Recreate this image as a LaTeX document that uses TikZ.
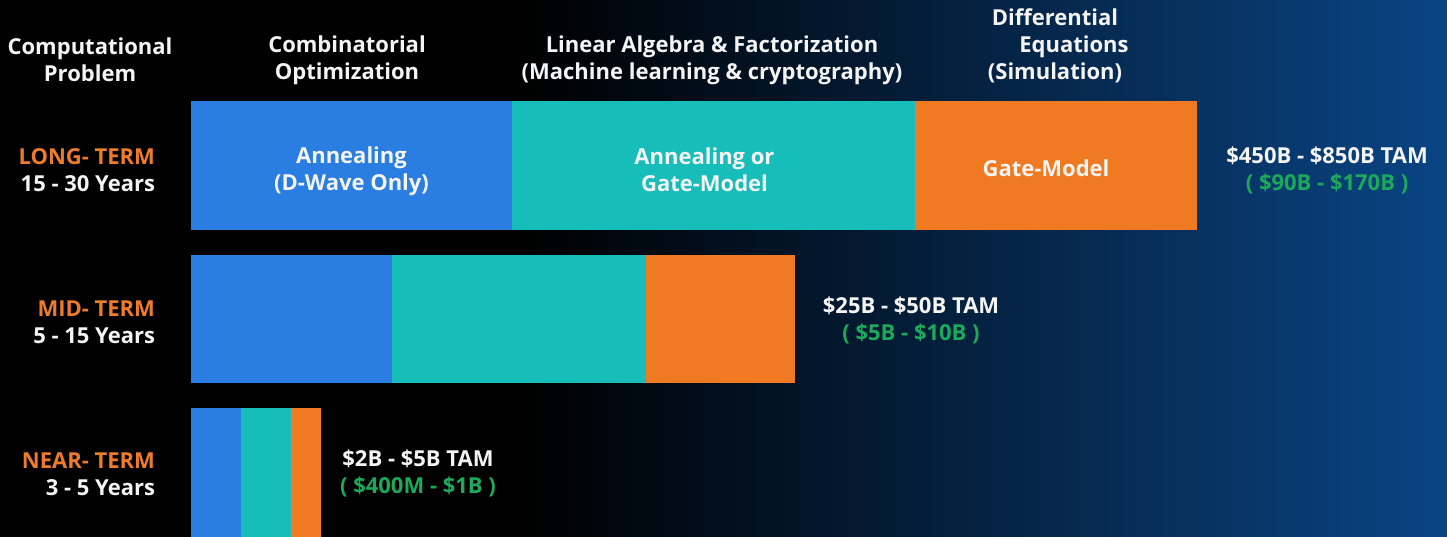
\documentclass[tikz,border=0pt]{standalone}
\usepackage{fontspec}
\setmainfont{Open Sans}
\usetikzlibrary{positioning}

\definecolor{qblue}{HTML}{2A7DE1}
\definecolor{qteal}{HTML}{17BDB8}
\definecolor{qorange}{HTML}{F07A21}
\definecolor{termorange}{HTML}{EE7B2C}
\definecolor{tamgreen}{HTML}{1BAA5A}
\definecolor{bgmid}{HTML}{031A3B}
\definecolor{bgnavy}{HTML}{0A4585}
\definecolor{txtwhite}{HTML}{F4F4F4}

\begin{document}
\begin{tikzpicture}[
        x=1pt, y=-1pt,
        every node/.style={text=txtwhite, font=\fontsize{22}{27}\selectfont\bfseries, inner sep=0pt, outer sep=0pt},
        head/.style={align=center},
        term/.style={align=right, anchor=east},
        tam/.style={align=center},
        bar/.style={minimum height=131pt, anchor=north west},
        barblue/.style={bar, fill=qblue},
        barteal/.style={bar, fill=qteal},
        barorange/.style={bar, fill=qorange},
        bartext/.style={align=center}
      ]
      % background
      \useasboundingbox (0,0) rectangle (1447,536);
      \fill[black] (-5,-5) rectangle (1452,541);
      \shade[left color=black, middle color=bgmid, right color=bgnavy] (520,-5) rectangle (1452,541);

      % column headings
      \node[head] (hprob) at (90,60) {Computational\\Problem};
      \node[head] (hcomb) at (347,60) {Combinatorial\\Optimization};
      \node[head] (hlin) at (712,60) {Linear Algebra \& Factorization\\(Machine learning \& cryptography)};
      \node[head] (hdiff) at (1055,46) {Differential\\\hspace*{38pt}Equations\\(Simulation)};

      % long term
      \node[term] (tlong) at (155,170) {{\color{termorange}LONG- TERM}\\15 - 30 Years};
      \node[barblue, minimum width=321pt, minimum height=129pt] (lblue) at (191,101) {};
      \node[barteal, minimum width=403pt, minimum height=129pt, right=0pt of lblue] (lteal) {};
      \node[barorange, minimum width=282pt, minimum height=129pt, right=0pt of lteal] (lorange) {};
      \node[bartext] (lbluetxt) at ([yshift=-6pt]lblue.center) {Annealing\\(D-Wave Only)};
      \node[bartext] (ltealtxt) at ([xshift=-9pt, yshift=-4pt]lteal.center) {Annealing or\\Gate-Model};
      \node[bartext] (lorangetxt) at ([xshift=-10pt, yshift=-3pt]lorange.center) {Gate-Model};
      \node[tam] (tamlong) at (1327,170) {\$450B - \$850B TAM\\{\color{tamgreen}( \$90B - \$170B )}};

      % mid term
      \node[term] (tmid) at (155,322) {{\color{termorange}MID- TERM}\\5 - 15 Years};
      \node[barblue, minimum width=201pt, minimum height=128pt] (mblue) at (191,255) {};
      \node[barteal, minimum width=254pt, minimum height=128pt, right=0pt of mblue] (mteal) {};
      \node[barorange, minimum width=149pt, minimum height=128pt, right=0pt of mteal] (morange) {};
      \node[tam] (tammid) at (911,320) {\$25B - \$50B TAM\\{\color{tamgreen}( \$5B - \$10B )}};

      % near term
      \node[term] (tnear) at (155,474) {{\color{termorange}NEAR- TERM}\\3 - 5 Years};
      \node[barblue, minimum width=50pt] (nblue) at (191,408) {};
      \node[barteal, minimum width=50pt, right=0pt of nblue] (nteal) {};
      \node[barorange, minimum width=30pt, right=0pt of nteal] (norange) {};
      \node[tam] (tamnear) at (418,473) {\$2B - \$5B TAM\\{\color{tamgreen}( \$400M - \$1B )}};
\end{tikzpicture}
\end{document}
